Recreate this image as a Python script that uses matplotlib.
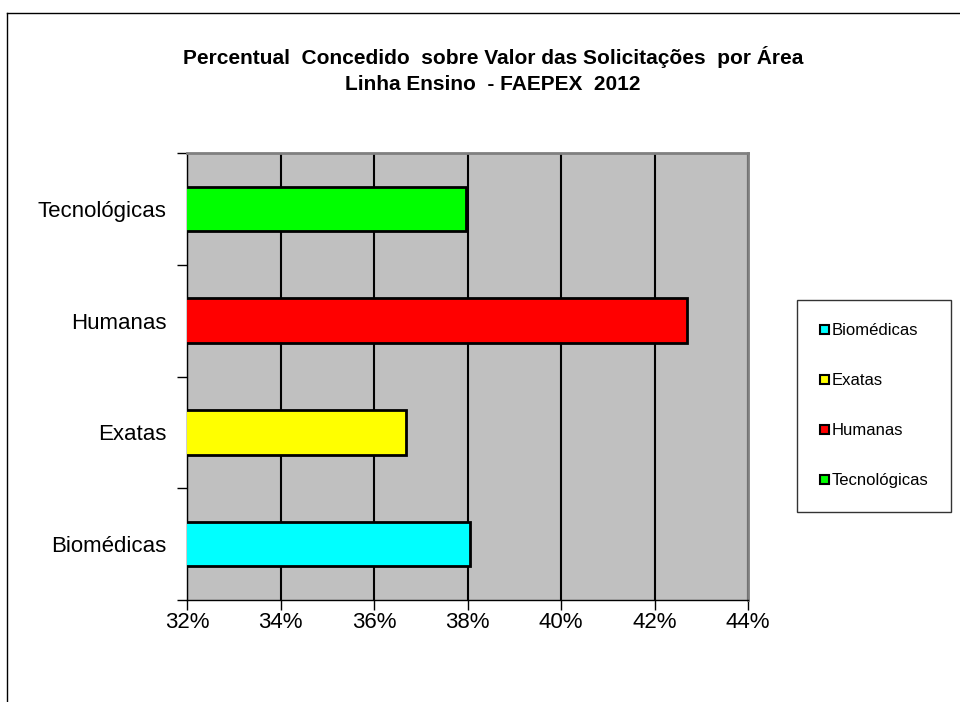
import matplotlib.pyplot as plt
from matplotlib.lines import Line2D
from matplotlib.ticker import FuncFormatter

# data
areas = ['Biomédicas', 'Exatas', 'Humanas', 'Tecnológicas']
percentual = [38.05, 36.68, 42.70, 37.97]
cores = ['#00FFFF', '#FFFF00', '#FF0000', '#00FF00']
xticks = [32, 34, 36, 38, 40, 42, 44]

plt.rcParams['font.family'] = ['Liberation Sans', 'DejaVu Sans']

fig = plt.figure(figsize=(9.6, 7.02), dpi=100)
ax = fig.add_axes([187 / 960, 1 - 600 / 702, 561 / 960, 447 / 702])
ax.set_facecolor('#C0C0C0')

pos = range(len(areas))
ax.barh(pos, percentual, height=0.4, color=cores, edgecolor='black',
        linewidth=2, left=0, zorder=3)

ax.set_xlim(32, 44)
ax.set_ylim(-0.5, len(areas) - 0.5)
ax.set_xticks(xticks)
ax.xaxis.set_major_formatter(FuncFormatter(lambda v, p: '%d%%' % v))
ax.set_yticks(list(pos))
ax.set_yticklabels(areas)
ax.set_yticks([i - 0.5 for i in range(len(areas) + 1)], minor=True)
ax.tick_params(axis='y', which='major', length=0, pad=15, labelsize=16)
ax.tick_params(axis='y', which='minor', length=7, width=1, direction='out')
ax.tick_params(axis='x', length=7, width=1, direction='out', labelsize=16, pad=2)
ax.grid(axis='x', color='black', linewidth=1.5, zorder=1)

for s in ['top', 'right']:
    ax.spines[s].set_color('#808080')
    ax.spines[s].set_linewidth(2)
ax.spines['left'].set_linewidth(1)
ax.spines['bottom'].set_linewidth(1)

fig.text(493 / 960, 1 - 57 / 702, 'Percentual  Concedido  sobre Valor das Solicitações  por Área',
         ha='center', va='center', fontsize=15, fontweight='bold')
fig.text(493 / 960, 1 - 85 / 702, 'Linha Ensino  - FAEPEX  2012',
         ha='center', va='center', fontsize=15, fontweight='bold')

handles = [plt.Rectangle((0, 0), 1, 1, facecolor=c, edgecolor='black', linewidth=1.5) for c in cores]
leg = fig.legend(handles, areas, loc='upper left',
                 bbox_to_anchor=(797 / 960, 1 - 300 / 702), fontsize=12,
                 frameon=True, fancybox=False, edgecolor='black',
                 handlelength=0.5, handleheight=0.5, handletextpad=0.15,
                 labelspacing=2.1, borderpad=1.4, borderaxespad=0)
leg.get_frame().set_linewidth(1)

# outer frame of the chart area
fig.add_artist(Line2D([7 / 960, 1], [1 - 13 / 702, 1 - 13 / 702], color='black', linewidth=1))
fig.add_artist(Line2D([7 / 960, 7 / 960], [0, 1 - 13 / 702], color='black', linewidth=1))

fig.savefig('out.png', dpi=100)
